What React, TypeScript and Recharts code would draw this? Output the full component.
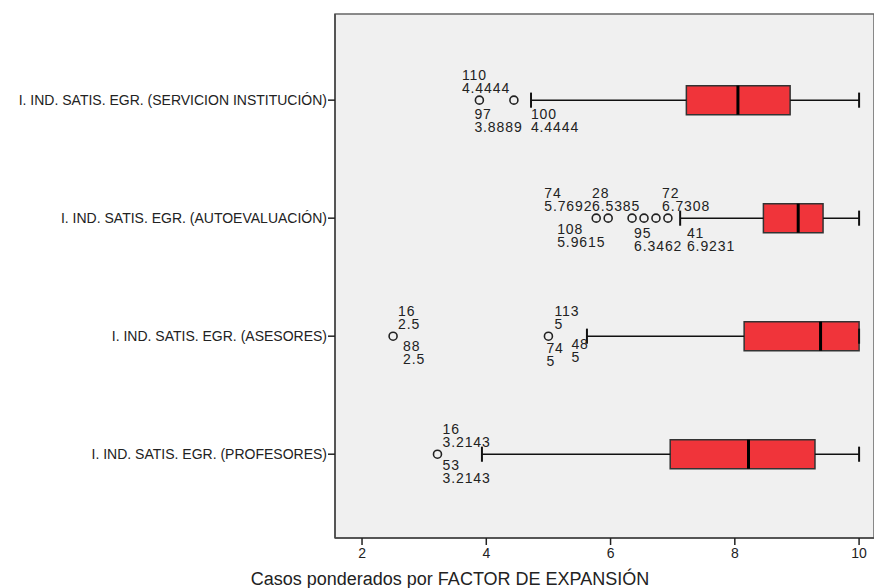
import React from 'react';
import { ScatterChart, Scatter, XAxis, YAxis, ReferenceArea, ReferenceLine } from 'recharts';

const categories = [
  'I. IND. SATIS. EGR. (SERVICION INSTITUCIÓN)',
  'I. IND. SATIS. EGR. (AUTOEVALUACIÓN)',
  'I. IND. SATIS. EGR. (ASESORES)',
  'I. IND. SATIS. EGR. (PROFESORES)',
];
const lowWhisker = [4.72, 7.12, 5.62, 3.93];
const q1 = [7.22, 8.46, 8.15, 6.96];
const medians = [8.05, 9.02, 9.38, 8.22];
const q3 = [8.89, 9.42, 10, 9.29];
const highWhisker = [10, 10, 10, 10];

const outlierRows = [0, 0, 1, 1, 1, 1, 1, 1, 2, 2, 3];
const outlierValues = [3.8889, 4.4444, 5.7692, 5.9615, 6.3462, 6.5385, 6.7308, 6.9231, 2.5, 5, 3.2143];

const labelRows = [0, 0, 0, 1, 1, 1, 1, 1, 1, 2, 2, 2, 2, 2, 3, 3];
const labelIds = ['110', '97', '100', '74', '28', '72', '108', '95', '41', '16', '88', '113', '74', '48', '16', '53'];
const labelValues = ['4.4444', '3.8889', '4.4444', '5.7692', '6.5385', '6.7308', '5.9615', '6.3462', '6.9231', '2.5', '2.5', '5', '5', '5', '3.2143', '3.2143'];

const xTicks = [2, 4, 6, 8, 10];

// text nudges (px) from each labelled point, like SPSS places them
const labelNudge = [
  [-52, -25], [-5, 14], [17, 14],
  [-52, -25], [-52, -25], [6, -25], [-51, 11], [2, 15], [19, 15],
  [5, -25], [10, 10], [6, -25], [-2, 12], [23, 8],
  [5, -25], [5, 11],
];

const FONT = 'Liberation Sans, Arial, sans-serif';
const BOX_HALF = 0.123;
const CAP_HALF = 0.064;

const outliers = outlierValues.map((v, i) => ({ x: v, y: outlierRows[i] + 1 }));
const labels = labelValues.map((v, i) => ({
  x: parseFloat(v),
  y: labelRows[i] + 1,
  id: labelIds[i],
  text: v,
  dx: labelNudge[i][0],
  dy: labelNudge[i][1],
}));

const Ring = (props: any) => (
  <circle cx={props.cx} cy={props.cy} r={4} fill="none" stroke="#222" strokeWidth={1.6} />
);

const CaseLabel = (props: any) => {
  const { cx, cy, payload } = props;
  const x = cx + payload.dx;
  const y = cy + payload.dy + 5;
  return (
    <text x={x} y={y} fontSize={14} letterSpacing={0.9} fill="#222" fontFamily={FONT}>
      <tspan x={x}>{payload.id}</tspan>
      <tspan x={x} dy={13}>{payload.text}</tspan>
    </text>
  );
};

const CategoryTick = (props: any) => (
  <text x={props.x} y={props.y + 5} textAnchor="end" fontSize={14} fill="#222" fontFamily={FONT}>
    {categories[props.payload.value - 1]}
  </text>
);

const AxisTitle = () => (
  <text x={450} y={585} textAnchor="middle" fontSize={18} fill="#222" fontFamily={FONT}>
    Casos ponderados por FACTOR DE EXPANSIÓN
  </text>
);

export default function App() {
  return (
    <div style={{ position: 'absolute', left: 0, top: 0, background: '#fff' }}>
      <ScatterChart width={874} height={588} margin={{ top: 14, right: 0, bottom: 0, left: 0 }}>
        <XAxis
          type="number"
          dataKey="x"
          domain={[1.565, 10.24]}
          ticks={xTicks}
          allowDataOverflow
          height={50}
          tickSize={7}
          tickMargin={3}
          axisLine={{ stroke: '#444', strokeWidth: 1.5 }}
          tickLine={{ stroke: '#222', strokeWidth: 1.5 }}
          tick={{ fontSize: 14, fill: '#222', fontFamily: FONT }}
          label={<AxisTitle />}
        />
        <YAxis
          type="number"
          dataKey="y"
          domain={[0.27, 4.71]}
          reversed
          ticks={[1, 2, 3, 4]}
          allowDataOverflow
          width={335}
          tickSize={7}
          tickMargin={1}
          axisLine={{ stroke: '#444', strokeWidth: 1.5 }}
          tickLine={{ stroke: '#222', strokeWidth: 1.5 }}
          tick={<CategoryTick />}
        />
        <ReferenceArea x1={1.565} x2={10.24} y1={0.27} y2={4.71} fill="#f0f0f0" fillOpacity={1} stroke="#666" strokeWidth={1.5} />
        {categories.map((c, i) => (
          <ReferenceArea
            key={'box' + c}
            x1={q1[i]}
            x2={q3[i]}
            y1={i + 1 - BOX_HALF}
            y2={i + 1 + BOX_HALF}
            fill="#f0343a"
            fillOpacity={1}
            stroke="#333"
            strokeWidth={1.5}
          />
        ))}
        {categories.map((c, i) => [
          <ReferenceLine key={'wl' + c} segment={[{ x: lowWhisker[i], y: i + 1 }, { x: q1[i], y: i + 1 }]} stroke="#111" strokeWidth={1.5} />,
          <ReferenceLine key={'wh' + c} segment={[{ x: q3[i], y: i + 1 }, { x: highWhisker[i], y: i + 1 }]} stroke="#111" strokeWidth={1.5} />,
          <ReferenceLine key={'cl' + c} segment={[{ x: lowWhisker[i], y: i + 1 - CAP_HALF }, { x: lowWhisker[i], y: i + 1 + CAP_HALF }]} stroke="#111" strokeWidth={2} />,
          <ReferenceLine key={'ch' + c} segment={[{ x: highWhisker[i], y: i + 1 - CAP_HALF }, { x: highWhisker[i], y: i + 1 + CAP_HALF }]} stroke="#111" strokeWidth={2} />,
          <ReferenceLine key={'md' + c} segment={[{ x: medians[i], y: i + 1 - BOX_HALF }, { x: medians[i], y: i + 1 + BOX_HALF }]} stroke="#000" strokeWidth={3} />,
        ])}
        <Scatter data={outliers} shape={<Ring />} isAnimationActive={false} />
        <Scatter data={labels} shape={<CaseLabel />} isAnimationActive={false} />
      </ScatterChart>
    </div>
  );
}
